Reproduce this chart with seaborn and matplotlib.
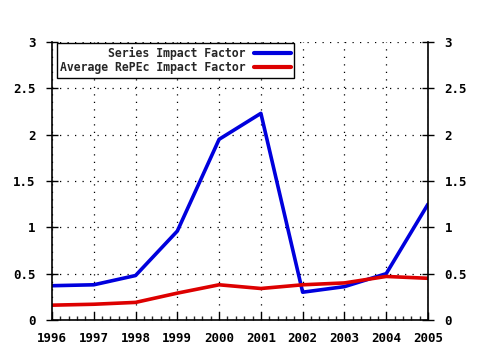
import matplotlib
matplotlib.use("Agg")
import matplotlib.pyplot as plt
import seaborn as sns
import pandas as pd
from matplotlib.ticker import MultipleLocator, FuncFormatter

years = [1996, 1997, 1998, 1999, 2000, 2001, 2002, 2003, 2004, 2005]
series_if = [0.37, 0.38, 0.48, 0.96, 1.95, 2.23, 0.30, 0.36, 0.50, 1.25]
avg_if = [0.16, 0.17, 0.19, 0.29, 0.38, 0.34, 0.38, 0.40, 0.47, 0.45]
labels = ["Series Impact Factor", "Average RePEc Impact Factor"]

df = pd.DataFrame({
    "year": years * 2,
    "value": series_if + avg_if,
    "series": [labels[0]] * len(years) + [labels[1]] * len(years),
})

sns.set_style("white")
plt.rcParams["font.family"] = ["DejaVu Sans Mono"]
plt.rcParams["font.weight"] = "bold"

fig = plt.figure(figsize=(4.8, 3.5), dpi=100)
ax = fig.add_axes([52 / 480, 30 / 350, 376 / 480, 278 / 350])

sns.lineplot(data=df, x="year", y="value", hue="series",
             palette={labels[0]: "#0000dd", labels[1]: "#dd0000"},
             linewidth=2.6, ax=ax, legend=True)

ax.set_xlim(1996, 2005)
ax.set_ylim(0, 3)
ax.set_xticks(years)
ax.xaxis.set_major_formatter(FuncFormatter(lambda v, p: f"{int(round(v))}"))
ax.set_yticks([0, 0.5, 1, 1.5, 2, 2.5, 3])
ax.yaxis.set_major_formatter(FuncFormatter(lambda v, p: f"{v:g}"))
ax.xaxis.set_minor_locator(MultipleLocator(0.2))
ax.set_xlabel("")
ax.set_ylabel("")

ax.grid(True, which="major", linestyle=(0, (1, 5)), color="black", linewidth=0.9)
for s in ["left", "right", "bottom"]:
    ax.spines[s].set_visible(True)
    ax.spines[s].set_color("black")
    ax.spines[s].set_linewidth(1.2)
ax.spines["top"].set_visible(False)

ax.tick_params(axis="y", which="major", direction="inout", length=8, width=1,
               left=True, right=True, labelleft=True, labelright=True,
               labelsize=9, pad=8, colors="black")
ax.tick_params(axis="x", which="major", direction="in", length=6, width=1,
               bottom=True, labelsize=9, pad=9, colors="black")
ax.tick_params(axis="x", which="minor", direction="in", length=3, width=1,
               bottom=True)

handles, labs = ax.get_legend_handles_labels()
leg = ax.legend(handles, labs, loc="upper left", bbox_to_anchor=(0.01, 1.0),
                markerfirst=False, frameon=True, fancybox=False,
                edgecolor="black", framealpha=1, fontsize=8.3,
                borderpad=0.3, labelspacing=0.15, handlelength=3.2,
                handletextpad=0.7, borderaxespad=0.1)
leg.get_frame().set_linewidth(1.0)
leg._legend_box.align = "right"
for line in leg.get_lines():
    line.set_linewidth(3)

fig.savefig("out.png", dpi=100, facecolor="white")
